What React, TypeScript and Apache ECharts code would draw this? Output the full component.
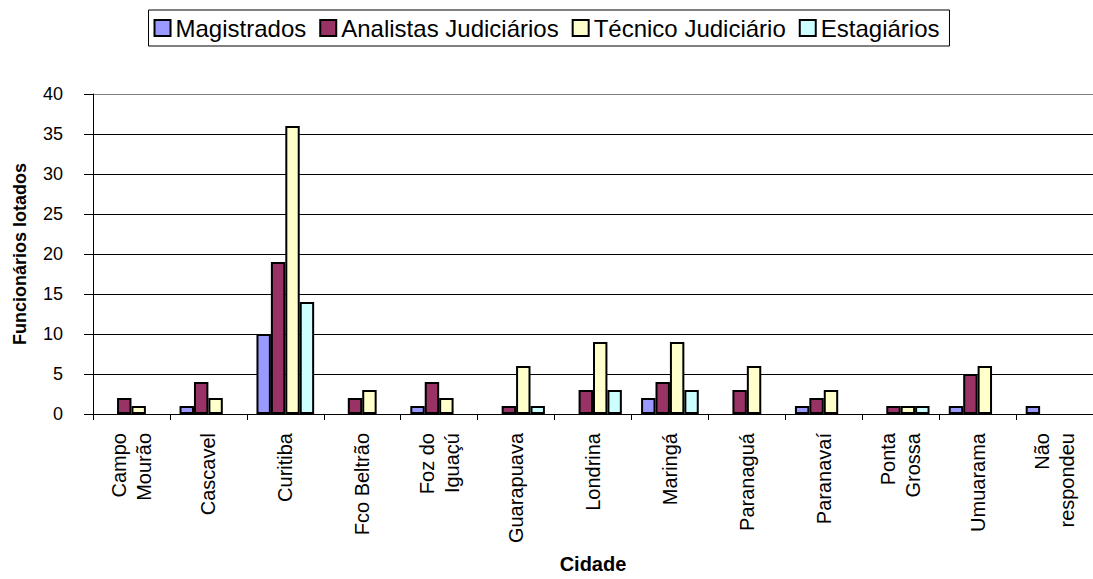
import React, { useEffect, useRef } from "react";
import * as echarts from "echarts";

const categories = [
  "Campo\nMourão",
  "Cascavel",
  "Curitiba",
  "Fco Beltrão",
  "Foz do\nIguaçú",
  "Guarapuava",
  "Londrina",
  "Maringá",
  "Paranaguá",
  "Paranavaí",
  "Ponta\nGrossa",
  "Umuarama",
  "Não\nrespondeu",
];

const magistrados = [0, 1, 10, 0, 1, 0, 0, 2, 0, 1, 0, 1, 1];
const analistas = [2, 4, 19, 2, 4, 1, 3, 4, 3, 2, 1, 5, 0];
const tecnicos = [1, 2, 36, 3, 2, 6, 9, 9, 6, 3, 1, 6, 0];
const estagiarios = [0, 0, 14, 0, 0, 1, 3, 3, 0, 0, 1, 0, 0];

const seriesNames = ["Magistrados", "Analistas Judiciários", "Técnico Judiciário", "Estagiários"];
const seriesColors = ["#9999FF", "#993366", "#FFFFCC", "#CCFFFF"];
const yTicks = [0, 5, 10, 15, 20, 25, 30, 35, 40];

const FONT = "'Liberation Sans', Arial, sans-serif";

export default function App() {
  const ref = useRef<HTMLDivElement>(null);
  useEffect(() => {
    if (!ref.current) return;
    const chart = echarts.init(ref.current, undefined, { renderer: "svg" });
    const allData = [magistrados, analistas, tecnicos, estagiarios];
    const gridColors = yTicks.map((v) => (v === 40 ? "#808080" : "#000000"));
    chart.setOption({
      animation: false,
      backgroundColor: "#ffffff",
      textStyle: { fontFamily: FONT },
      legend: {
        top: 10,
        left: "center",
        orient: "horizontal",
        data: seriesNames,
        icon: "rect",
        itemWidth: 16,
        itemHeight: 16,
        itemGap: 13,
        padding: [6, 10, 6, 5],
        borderColor: "#000000",
        borderWidth: 1,
        itemStyle: { borderColor: "#000", borderWidth: 2 },
        textStyle: { fontSize: 24, color: "#000", fontFamily: FONT },
        selectedMode: false,
      },
      grid: { left: 93, top: 94, width: 1010, height: 324 },
      xAxis: {
        type: "category",
        data: categories,
        name: "Cidade",
        nameLocation: "middle",
        nameGap: 140,
        nameTextStyle: { fontSize: 20, fontWeight: "bold", color: "#000", fontFamily: FONT },
        axisLine: { lineStyle: { color: "#000", width: 1 } },
        axisTick: { show: true, length: 6, lineStyle: { color: "#000" } },
        axisLabel: {
          rotate: 90,
          fontSize: 20,
          lineHeight: 25,
          color: "#000",
          margin: 19,
          interval: 0,
          fontFamily: FONT,
        },
      },
      yAxis: {
        type: "value",
        min: 0,
        max: 40,
        interval: 5,
        name: "Funcionários lotados",
        nameLocation: "middle",
        nameGap: 64,
        nameTextStyle: { fontSize: 18, fontWeight: "bold", color: "#000", fontFamily: FONT },
        axisLine: { show: true, lineStyle: { color: "#000", width: 1 } },
        axisTick: { show: true, length: 9, lineStyle: { color: "#000" } },
        axisLabel: { fontSize: 18, color: "#000", margin: 30, fontFamily: FONT },
        splitLine: { show: true, lineStyle: { color: gridColors, width: 1 } },
      },
      series: seriesNames.map((name, i) => ({
        name,
        type: "bar",
        data: allData[i].map((v) => (v === 0 ? null : v)),
        barGap: "0%",
        barCategoryGap: "25%",
        itemStyle: { color: seriesColors[i], borderColor: "#000", borderWidth: 2 },
      })),
    });
    return () => chart.dispose();
  }, []);
  return (
    <div
      ref={ref}
      style={{ position: "fixed", left: 0, top: 0, width: 1093, height: 579, overflow: "hidden" }}
    />
  );
}
